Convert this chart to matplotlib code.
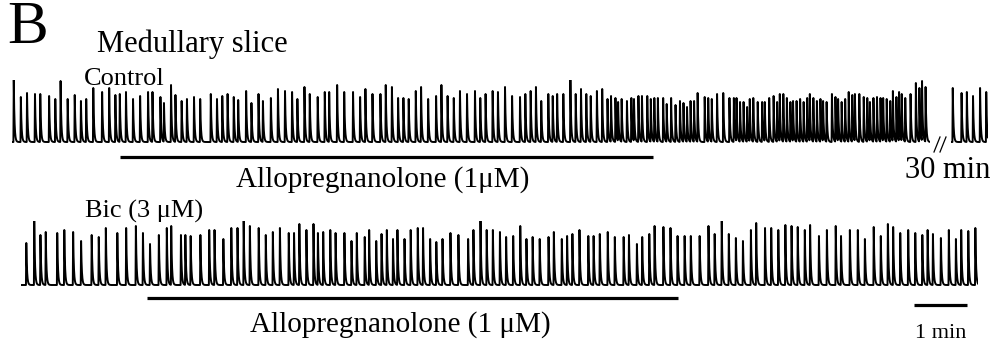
import matplotlib
matplotlib.use('Agg')
import matplotlib.pyplot as plt
from matplotlib.lines import Line2D
import numpy as np

plt.rcParams['font.family'] = ['Liberation Serif', 'DejaVu Serif']

# burst onset times (s) and amplitudes (a.u.)
ctrl_t = [2, 10, 17, 26, 32, 42, 49, 55, 63, 71, 78, 84, 92, 102, 110, 117, 122, 129, 137, 145,
          154, 159, 168, 172, 180, 185, 192, 198, 206, 213, 225, 232, 238, 244, 251, 256,
          265, 271, 279, 284, 293, 301, 309, 317, 323, 331, 337, 346, 354, 359, 368, 376, 386, 394,
          400, 408, 417, 423, 430, 437, 443, 449, 457, 463, 471, 480, 486, 493, 500, 507, 515, 524,
          530, 536, 544, 550, 558, 566, 575, 581, 587, 593, 599, 607, 612, 617, 624, 632, 638, 644,
          650, 655, 662, 668, 674, 678, 683, 686, 690, 696, 701, 704, 709, 713, 719, 723, 727, 731,
          737, 741, 746, 751, 756, 760, 764, 768, 772, 776, 784, 788, 792,
          798, 805, 812, 817, 820, 824, 828, 832, 835, 839, 844, 849, 852, 857, 862, 866, 869, 873,
          877, 881, 884, 888, 892, 896, 900, 903, 907, 911, 915, 918, 922, 928, 932, 935, 939, 943,
          947, 951, 954, 959, 964, 968, 971, 975, 979, 983, 986, 990, 994, 997, 1001, 1004, 1007,
          1011, 1017, 1023, 1027, 1030, 1034]
ctrl_h = [62, 45, 49, 48, 48, 46, 43, 61, 43, 47, 41, 43, 54, 50, 54, 47, 48, 50, 43, 46,
          50, 50, 45, 39, 57, 47, 41, 43, 45, 43, 48, 43, 46, 48, 45, 42,
          51, 39, 48, 41, 44, 53, 51, 50, 43, 55, 48, 45, 50, 50, 57, 50, 50, 45,
          53, 48, 48, 57, 55, 44, 44, 43, 51, 55, 43, 46, 57, 46, 44, 51, 48, 51,
          44, 48, 51, 50, 55, 46, 45, 48, 51, 55, 41, 48, 46, 48, 48, 63, 48, 53,
          48, 46, 51, 53, 43, 46, 44, 40, 43, 41, 44, 43, 46, 46, 46, 43, 44, 44,
          44, 38, 44, 37, 41, 39, 35, 41, 41, 49, 45, 44, 43,
          48, 49, 44, 44, 44, 40, 40, 35, 43, 44, 40, 40, 40, 44, 46, 40, 48, 48,
          44, 40, 41, 41, 43, 40, 44, 48, 44, 41, 43, 41, 40, 48, 45, 43, 40, 43,
          50, 47, 48, 48, 45, 44, 40, 44, 45, 44, 44, 43, 41, 51, 45, 50, 48,
          44, 48, 59, 54, 61, 55]
ctrl_end = 1039

# after 30 min
late_t = [2, 12, 18, 25, 33, 40]
late_h = [54, 49, 50, 46, 54, 50]
late_end = 42

bic_t = [6, 15, 22, 28, 41, 49, 59, 68, 80, 88, 96, 109, 119, 130, 138, 146, 156, 165, 170, 181,
         186, 192, 203, 213, 219, 229, 238, 245, 252, 259,
         269, 277, 285, 293, 303, 309, 315, 323, 331, 336, 342, 350, 356, 366, 374, 380, 389, 394,
         402, 408, 414, 421, 426, 434, 441, 449, 455, 463, 470, 477, 486, 495, 506, 512, 520, 527,
         534, 542, 549, 557, 565, 572, 579, 587, 597, 603, 612, 618, 624, 632, 642, 648, 655, 664,
         672, 682, 688, 697, 703, 711, 717, 727, 735, 743, 751, 758, 768, 778, 785, 793,
         801, 809, 817, 826, 832, 842, 849, 857, 865, 872, 879, 887, 893, 903, 912, 922, 928, 938,
         947, 955, 965, 973, 981, 987, 995, 1004, 1012, 1020, 1026, 1032, 1041, 1050, 1058, 1064,
         1072, 1080]
bic_h = [42, 64, 50, 53, 52, 55, 53, 44, 50, 48, 57, 52, 57, 59, 52, 41, 50, 57, 59, 50,
         50, 49, 50, 55, 55, 46, 57, 57, 64, 59,
         57, 50, 53, 57, 52, 52, 61, 55, 61, 52, 53, 55, 52, 52, 44, 52, 48, 55,
         44, 51, 55, 46, 55, 46, 55, 57, 57, 46, 43, 46, 52, 50, 46, 55, 64, 55,
         55, 53, 48, 49, 59, 46, 48, 46, 48, 53, 46, 49, 51, 55, 49, 49, 51, 53,
         48, 48, 50, 41, 48, 51, 59, 58, 57, 49, 49, 49, 49, 59, 51, 64,
         51, 47, 44, 55, 62, 57, 57, 55, 60, 59, 58, 55, 60, 49, 55, 59, 49, 55,
         55, 46, 58, 49, 61, 58, 52, 55, 52, 50, 55, 51, 47, 55, 46, 55, 54, 57]
bic_end = 1083

allo_ctrl = (122, 725)   # application period, s
allo_bic = (143, 744)
scale_bar = (1011, 1071)


def trace(times, amps, t_end, dt=0.1):
    t = np.arange(0, t_end, dt)
    y = np.zeros_like(t)
    for t0, a in zip(times, amps):
        s = t - t0
        rise = (s >= -0.4) & (s < 0)
        y[rise] = np.maximum(y[rise], a * (s[rise] + 0.4) / 0.4)
        dec = (s >= 0) & (s < 6)
        y[dec] = np.maximum(y[dec], a * np.exp(-s[dec] / 0.8))
    return t, y


W, H = 994, 346
fig = plt.figure(figsize=(W / 100, H / 100), dpi=100)


def fx(x):
    return x / W


def fy(y):
    return 1 - y / H


def add_trace_axes(x0, x1, ytop, ybot):
    ax = fig.add_axes([fx(x0), fy(ybot), fx(x1) - fx(x0), fy(ytop) - fy(ybot)])
    ax.axis('off')
    return ax


LW = 1.4

ax1 = add_trace_axes(12, 930, 80, 145)
t, y = trace(ctrl_t, ctrl_h, ctrl_end)
ax1.plot(t, y, color='black', lw=LW)
ax1.set_xlim(0, ctrl_end)
ax1.set_ylim(-3, 62)
ax1.plot(allo_ctrl, [-15, -15], color='black', lw=2.3, clip_on=False, solid_capstyle='butt')

ax1b = add_trace_axes(951, 988, 80, 145)
t, y = trace(late_t, late_h, late_end)
ax1b.plot(t, y, color='black', lw=LW)
ax1b.set_xlim(0, late_end)
ax1b.set_ylim(-3, 62)

ax2 = add_trace_axes(21, 978, 221, 288)
t, y = trace(bic_t, bic_h, bic_end)
ax2.plot(t, y, color='black', lw=LW)
ax2.set_xlim(0, bic_end)
ax2.set_ylim(-3, 64)
ax2.plot(allo_bic, [-13, -13], color='black', lw=2.3, clip_on=False, solid_capstyle='butt')
ax2.plot(scale_bar, [-20, -20], color='black', lw=2.3, clip_on=False, solid_capstyle='butt')

# break marks
for dx in (0, 6):
    fig.add_artist(Line2D([fx(934 + dx), fx(940 + dx)], [fy(152), fy(137)],
                          color='black', lw=0.9))

fig.text(fx(7), fy(43), 'B', fontsize=44, va='baseline')
fig.text(fx(97), fy(52), 'Medullary slice', fontsize=22, va='baseline')
fig.text(fx(84), fy(85), 'Control', fontsize=19, va='baseline')
fig.text(fx(383), fy(187), 'Allopregnanolone (1\u03bcM)', fontsize=21, va='baseline', ha='center')
fig.text(fx(990), fy(178), '30 min', fontsize=22, va='baseline', ha='right')
fig.text(fx(85), fy(218), 'Bic (3 \u03bcM)', fontsize=19, va='baseline')
fig.text(fx(400), fy(332), 'Allopregnanolone (1 \u03bcM)', fontsize=21, va='baseline', ha='center')
fig.text(fx(941), fy(338), '1 min', fontsize=16, va='baseline', ha='center')

fig.savefig('out.png', dpi=100)
